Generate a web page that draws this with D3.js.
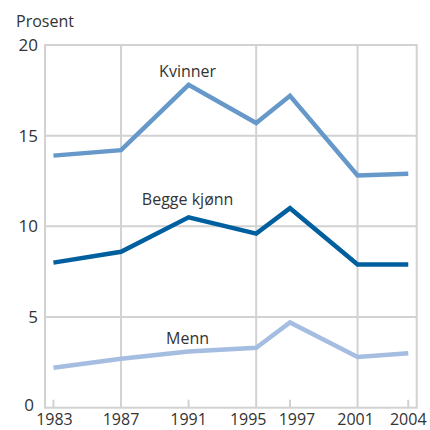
<!DOCTYPE html>
<html>
<head>
<meta charset="utf-8">
<script src="https://cdn.jsdelivr.net/npm/d3@7"></script>
<style>
  html, body { margin: 0; padding: 0; background: #fff; }
  svg { display: block; font-family: "Open Sans", "Noto Sans", sans-serif; }
</style>
</head>
<body>
<svg id="chart" width="430" height="430"></svg>
<script>
// data
var years = [1983, 1987, 1991, 1995, 1997, 2001, 2004];
var kvinner = [13.9, 14.2, 17.8, 15.7, 17.2, 12.8, 12.9];
var begge = [8.0, 8.6, 10.5, 9.6, 11.0, 7.9, 7.9];
var menn = [2.2, 2.7, 3.1, 3.3, 4.7, 2.8, 3.0];
var seriesNames = ["Kvinner", "Begge kjønn", "Menn"];
var yTicks = [0, 5, 10, 15, 20];
var gridYears = [1987, 1995, 2001];
var tickYears = [1983, 1991, 1997, 2004];

// chart setup
var width = 430, height = 430;
var margin = {top: 45, right: 13.3, bottom: 22.3, left: 45};
var svg = d3.select("#chart");

var x = d3.scaleLinear().domain([1982.5, 2004.5]).range([margin.left, width - margin.right]);
var y = d3.scaleLinear().domain([0, 20]).range([height - margin.bottom, margin.top]);

var gridColor = "#d2d2d2";
var textColor = "#333";

// horizontal gridlines
svg.append("g").selectAll("line").data(yTicks.slice(1)).join("line")
  .attr("x1", x.range()[0]).attr("x2", x.range()[1])
  .attr("y1", function(d) { return y(d); }).attr("y2", function(d) { return y(d); })
  .attr("stroke", gridColor).attr("stroke-width", 2);

// vertical gridlines
svg.append("g").selectAll("line").data(gridYears).join("line")
  .attr("x1", function(d) { return x(d); }).attr("x2", function(d) { return x(d); })
  .attr("y1", y(0)).attr("y2", y(20))
  .attr("stroke", gridColor).attr("stroke-width", 2);

// short ticks on x axis
svg.append("g").selectAll("line").data(tickYears).join("line")
  .attr("x1", function(d) { return x(d); }).attr("x2", function(d) { return x(d); })
  .attr("y1", y(0)).attr("y2", y(0) - 8)
  .attr("stroke", gridColor).attr("stroke-width", 2);

// frame
svg.append("rect")
  .attr("x", x.range()[0]).attr("y", y(20))
  .attr("width", x.range()[1] - x.range()[0]).attr("height", y(0) - y(20))
  .attr("fill", "none").attr("stroke", gridColor).attr("stroke-width", 2);

// y tick labels ("0" tucked up/left so it clears the 1983 label)
svg.append("g").selectAll("text").data(yTicks).join("text")
  .attr("x", function(d) { return d == 0 ? margin.left - 11 : margin.left - 7; })
  .attr("y", function(d) { return d == 0 ? y(d) - 3 : y(d); })
  .attr("dy", "0.36em")
  .attr("text-anchor", "end")
  .attr("font-size", 17)
  .attr("fill", textColor)
  .text(function(d) { return d; });

// x tick labels (1995 and 1997 pushed apart so they don't collide)
var labelNudge = {1983: 1, 1995: -8, 1997: 7, 2001: -2};
svg.append("g").selectAll("text").data(years).join("text")
  .attr("x", function(d) { return x(d) + (labelNudge[d] || 0); })
  .attr("y", 425)
  .attr("text-anchor", "middle")
  .attr("font-size", 16)
  .attr("fill", textColor)
  .text(function(d) { return d; });

svg.append("text")
  .attr("x", 16).attr("y", 27)
  .attr("font-size", 16)
  .attr("fill", textColor)
  .text("Prosent");

// lines
var colors = ["#6698c9", "#00609f", "#a4bde0"];
var allSeries = [kvinner, begge, menn];
var line = d3.line()
  .x(function(d, i) { return x(years[i]); })
  .y(function(d) { return y(d); });

svg.append("g").selectAll("path").data(allSeries).join("path")
  .attr("d", function(d) { return line(d); })
  .attr("fill", "none")
  .attr("stroke", function(d, i) { return colors[i]; })
  .attr("stroke-width", 4.5)
  .attr("stroke-linejoin", "miter");

// series labels, anchored in data units
var labelYear = [1991, 1991, 1991];
var labelVal = [18.25, 11.15, 3.5];
svg.append("g").selectAll("text").data(seriesNames).join("text")
  .attr("x", function(d, i) { return x(labelYear[i]) - 1; })
  .attr("y", function(d, i) { return y(labelVal[i]); })
  .attr("text-anchor", "middle")
  .attr("font-size", 16)
  .attr("fill", textColor)
  .text(function(d) { return d; });
</script>
</body>
</html>
